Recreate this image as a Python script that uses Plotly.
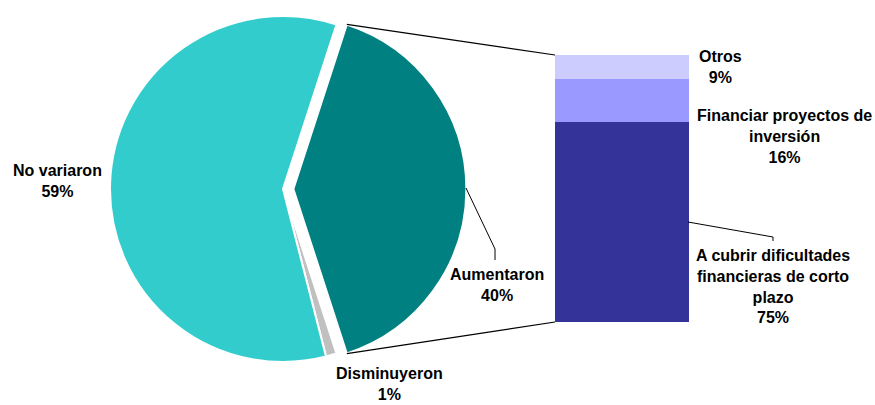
import math
import plotly.graph_objects as go

# ---- data ----
pie_labels = ["Aumentaron", "Disminuyeron", "No variaron"]
pie_values = [40, 1, 59]
pie_colors = ["#008080", "#C0C0C0", "#33CCCC"]

bar_labels = ["A cubrir dificultades financieras de corto plazo",
              "Financiar proyectos de inversión", "Otros"]
bar_values = [75, 16, 9]
bar_colors = ["#333399", "#9999FF", "#CCCCFF"]

W, H = 875, 405
FONT = dict(family="Liberation Sans, Arial, sans-serif", size=16, color="#000000")

# ---- pie geometry (pixels) ----
cx, cy, r = 283.0, 189.0, 173.0
pull = 0.06
rotation = 18
half = r * (1 + pull)
pie_dom_x = [(cx - half) / W, (cx + half) / W]
pie_dom_y = [1 - (cy + half) / H, 1 - (cy - half) / H]

# bar geometry (pixels)
bx0, bx1, by_top, by_bot = 555, 689, 55, 322

fig = go.Figure()
fig.add_trace(go.Pie(
    labels=pie_labels, values=pie_values, sort=False, direction="clockwise",
    rotation=rotation, pull=[pull, 0, 0],
    marker=dict(colors=pie_colors, line=dict(color="white", width=2)),
    textinfo="none", hoverinfo="label+percent",
    domain=dict(x=pie_dom_x, y=pie_dom_y), showlegend=False,
))

for lab, val, col in zip(bar_labels, bar_values, bar_colors):
    fig.add_trace(go.Bar(
        x=[0], y=[val], name=lab, width=1, marker=dict(color=col, line=dict(width=0)),
        xaxis="x", yaxis="y", showlegend=False, hoverinfo="name+y",
    ))

# connector lines computed from the pulled slice's edge angles
tot = sum(pie_values)
a0 = math.radians(rotation)
a1 = math.radians(rotation + 360 * pie_values[0] / tot)
amid = (a0 + a1) / 2
pcx = cx + pull * r * math.sin(amid)
pcy = cy - pull * r * math.cos(amid)
p_top = (pcx + r * math.sin(a0), pcy - r * math.cos(a0))
p_bot = (pcx + r * math.sin(a1), pcy - r * math.cos(a1))

def px(x, y):
    return x / W, 1 - y / H

shapes = []
def line(p, q, w=1.2):
    (x0, y0), (x1, y1) = px(*p), px(*q)
    shapes.append(dict(type="line", xref="paper", yref="paper", x0=x0, y0=y0, x1=x1, y1=y1,
                       line=dict(color="#000000", width=w)))

line(p_top, (bx0, by_top))
line(p_bot, (bx0, by_bot))
# leader lines
line((466, 188), (495, 249), 1)
line((495, 249), (495, 260), 1)
line((688, 222), (773, 237), 1)
line((773, 237), (773, 241), 1)

annots = []
def ann(x, y, text):
    ax, ay = px(x, y)
    annots.append(dict(x=ax, y=ay, xref="paper", yref="paper", text=text, showarrow=False,
                       xanchor="center", yanchor="middle", align="center", font=FONT,
                       borderpad=0))

ann(58, 181, "<b>No variaron</b><br><b>59%</b>")
ann(497, 285, "<b>Aumentaron</b><br><b>40%</b>")
ann(389, 384, "<b>Disminuyeron</b><br><b>1%</b>")
ann(720, 67, "<b>Otros</b><br><b>9%</b>")
ann(784, 136, "<b>Financiar proyectos de</b><br><b>inversión</b><br><b>16%</b>")
ann(773, 286, "<b>A cubrir dificultades</b><br><b>financieras de corto</b><br><b>plazo</b><br><b>75%</b>")

fig.update_layout(
    width=W, height=H, margin=dict(l=0, r=0, t=0, b=0),
    paper_bgcolor="white", plot_bgcolor="white",
    barmode="stack", bargap=0,
    xaxis=dict(domain=[bx0 / W, bx1 / W], range=[-0.5, 0.5], visible=False, fixedrange=True),
    yaxis=dict(domain=[1 - by_bot / H, 1 - by_top / H], range=[0, sum(bar_values)],
               visible=False, fixedrange=True),
    shapes=shapes, annotations=annots, font=FONT,
)

fig.write_html("out.html", config={"displayModeBar": False},
               post_script="document.body.style.margin='0';document.body.style.padding='0';")
